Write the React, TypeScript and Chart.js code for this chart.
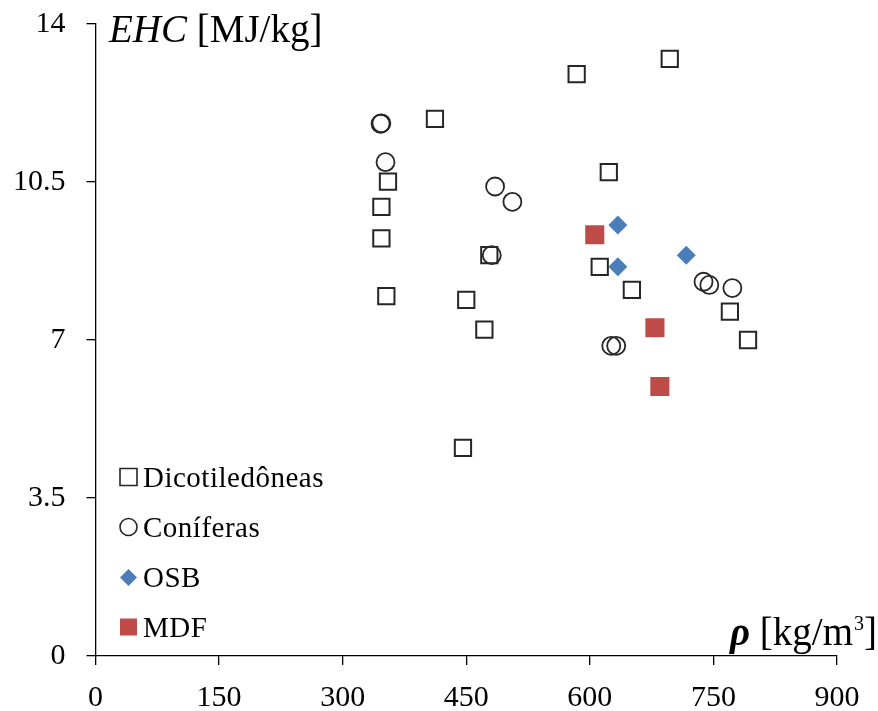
import React, { useEffect, useRef } from 'react';
import { Chart, registerables } from 'chart.js';

Chart.register(...registerables);

// ---- data ----
const seriesNames = ['Dicotiledôneas', 'Coníferas', 'OSB', 'MDF'];
const xTickValues = [0, 150, 300, 450, 600, 750, 900];
const yTickValues = [0, 3.5, 7, 10.5, 14];

const dicotX = [412, 584, 697, 623, 355, 347, 347, 353, 450, 472, 478, 612, 651, 770, 792, 446];
const dicotY = [11.9, 12.89, 13.23, 10.72, 10.51, 9.95, 9.25, 7.97, 7.89, 7.23, 8.88, 8.62, 8.11, 7.63, 7.0, 4.61];

const conifX = [346, 347, 352, 485, 506, 481, 626, 632, 738, 745, 773];
const conifY = [11.79, 11.8, 10.94, 10.4, 10.06, 8.88, 6.87, 6.87, 8.29, 8.22, 8.15];

const osbX = [634, 634, 717];
const osbY = [9.55, 8.62, 8.88];

const mdfX = [606, 679, 685];
const mdfY = [9.33, 7.27, 5.97];

const toPoints = (xs: number[], ys: number[]) => xs.map((x, i) => ({ x, y: ys[i] }));

const FONT = '"Liberation Serif", "Times New Roman", serif';
const INK = '#262626';
const BLUE = '#4A7EBB';
const RED = '#BE4B48';

function drawMarker(ctx: CanvasRenderingContext2D, kind: string, x: number, y: number, s: number) {
  ctx.save();
  ctx.beginPath();
  if (kind === 'square') {
    ctx.rect(x - s / 2, y - s / 2, s, s);
    ctx.strokeStyle = INK; ctx.lineWidth = 1.6; ctx.fillStyle = '#fff';
    ctx.fill(); ctx.stroke();
  } else if (kind === 'circle') {
    ctx.arc(x, y, s / 2, 0, Math.PI * 2);
    ctx.strokeStyle = INK; ctx.lineWidth = 1.6; ctx.fillStyle = '#fff';
    ctx.fill(); ctx.stroke();
  } else if (kind === 'diamond') {
    ctx.moveTo(x, y - s / 2); ctx.lineTo(x + s / 2, y); ctx.lineTo(x, y + s / 2); ctx.lineTo(x - s / 2, y); ctx.closePath();
    ctx.fillStyle = BLUE; ctx.fill();
  } else {
    ctx.rect(x - s / 2, y - s / 2, s, s);
    ctx.fillStyle = RED; ctx.fill();
  }
  ctx.restore();
}

const overlayPlugin = {
  id: 'overlay',
  afterDraw(chart: any) {
    const ctx: any = chart.ctx;
    ctx.save();
    ctx.fillStyle = '#000';
    ctx.textBaseline = 'alphabetic';
    ctx.textAlign = 'left';
    // y title
    ctx.font = `italic 39px ${FONT}`;
    ctx.fillText('EHC', 109, 42);
    const w = ctx.measureText('EHC').width;
    ctx.font = `39px ${FONT}`;
    ctx.fillText(' [MJ/kg]', 109 + w, 42);
    // x title
    let x = 730;
    const base = 645;
    ctx.font = `bold italic 39px ${FONT}`;
    ctx.fillText('ρ', x, base);
    x += ctx.measureText('ρ').width;
    ctx.font = `39px ${FONT}`;
    ctx.fillText(' [kg/m', x, base);
    x += ctx.measureText(' [kg/m').width;
    ctx.font = `20px ${FONT}`;
    ctx.fillText('3', x + 1, base - 15);
    x += ctx.measureText('3').width + 1;
    ctx.font = `39px ${FONT}`;
    ctx.fillText(']', x, base);

    // legend
    const kinds = ['square', 'circle', 'diamond', 'filled'];
    const rows = [477, 527, 577.5, 627];
    ctx.font = `29px ${FONT}`;
    try { ctx.letterSpacing = '0.5px'; } catch (e) { /* ignore */ }
    seriesNames.forEach((name, i) => {
      drawMarker(ctx, kinds[i], 128.5, rows[i], 17);
      ctx.fillStyle = '#000';
      ctx.fillText(name, 143, rows[i] + 9.5);
    });
    try { ctx.letterSpacing = '0px'; } catch (e) { /* ignore */ }
    ctx.restore();
  },
};

export default function App() {
  const ref = useRef<HTMLCanvasElement | null>(null);
  useEffect(() => {
    if (!ref.current) return;
    const chart = new Chart(ref.current, {
      type: 'scatter',
      data: {
        datasets: [
          {
            label: seriesNames[0],
            data: toPoints(dicotX, dicotY),
            pointStyle: 'rect',
            pointRadius: 11.5,
            pointBorderWidth: 2,
            pointBorderColor: INK,
            pointBackgroundColor: 'rgba(255,255,255,0)',
          },
          {
            label: seriesNames[1],
            data: toPoints(conifX, conifY),
            pointStyle: 'circle',
            pointRadius: 9,
            pointBorderWidth: 1.8,
            pointBorderColor: INK,
            pointBackgroundColor: 'rgba(255,255,255,0)',
          },
          {
            label: seriesNames[2],
            data: toPoints(osbX, osbY),
            pointStyle: 'rectRot',
            pointRadius: 9.5,
            pointBorderWidth: 0,
            pointBorderColor: BLUE,
            pointBackgroundColor: BLUE,
          },
          {
            label: seriesNames[3],
            data: toPoints(mdfX, mdfY),
            pointStyle: 'rect',
            pointRadius: 13.5,
            pointBorderWidth: 0,
            pointBorderColor: RED,
            pointBackgroundColor: RED,
          },
        ],
      },
      options: {
        animation: false,
        responsive: false,
        layout: { padding: { left: 0, top: 24, right: 41, bottom: 0 } },
        plugins: { legend: { display: false }, tooltip: { enabled: false }, title: { display: false } },
        scales: {
          x: {
            type: 'linear',
            min: 0,
            max: 900,
            afterBuildTicks: (s: any) => { s.ticks = xTickValues.map((v) => ({ value: v })); },
            afterFit: (s: any) => { s.height = 55; s.paddingLeft = 0; s.paddingRight = 0; },
            ticks: {
              color: '#000',
              font: { family: FONT, size: 30 },
              padding: 15,
              maxRotation: 0,
              callback: (v: any) => String(v),
            },
            grid: { display: true, drawOnChartArea: false, drawTicks: true, tickLength: 9, color: '#000', lineWidth: 1.3 },
            border: { display: true, color: '#000', width: 1.3 },
          },
          y: {
            type: 'linear',
            min: 0,
            max: 14,
            afterBuildTicks: (s: any) => { s.ticks = yTickValues.map((v) => ({ value: v })); },
            afterFit: (s: any) => { s.width = 95.5; s.paddingTop = 0; s.paddingBottom = 0; },
            ticks: {
              color: '#000',
              font: { family: FONT, size: 30 },
              padding: 21,
              callback: (v: any) => String(v),
            },
            grid: { display: true, drawOnChartArea: false, drawTicks: true, tickLength: 9, color: '#000', lineWidth: 1.3 },
            border: { display: true, color: '#000', width: 1.3 },
          },
        },
      },
      plugins: [overlayPlugin],
    });
    return () => chart.destroy();
  }, []);
  return (
    <div style={{ position: 'fixed', left: 0, top: 0, width: 878, height: 711, background: '#fff' }}>
      <canvas ref={ref} width={878} height={711} style={{ display: 'block' }} />
    </div>
  );
}
